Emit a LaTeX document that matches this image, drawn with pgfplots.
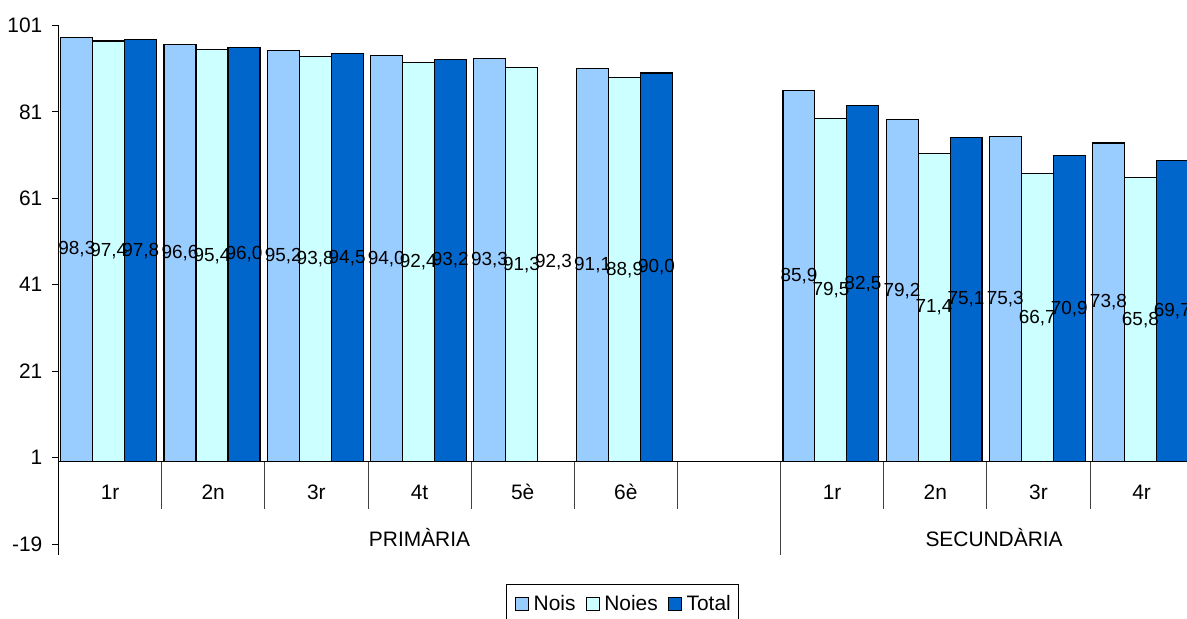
\documentclass[border=0pt]{standalone}
\usepackage{pgfplots}
\pgfplotsset{compat=1.18}
\usepackage{pgfplotstable}
\usepackage{fontspec}
\setmainfont{Liberation Sans}
\definecolor{cNois}{HTML}{99CCFF}
\definecolor{cNoies}{HTML}{CCFFFF}
\definecolor{cTotal}{HTML}{0066CC}

\pgfplotstableread{
x v lab
0 98.3 98,3
1 96.6 96,6
2 95.2 95,2
3 94.0 94,0
4 93.3 93,3
5 91.1 91,1
7 85.9 85,9
8 79.2 79,2
9 75.3 75,3
10 73.8 73,8
}\nois

\pgfplotstableread{
x v lab
0 97.4 97,4
1 95.4 95,4
2 93.8 93,8
3 92.4 92,4
4 91.3 91,3
5 88.9 88,9
7 79.5 79,5
8 71.4 71,4
9 66.7 66,7
10 65.8 65,8
}\noies

\pgfplotstableread{
x v bar lab
0 97.8 97.8 97,8
1 96.0 96.0 96,0
2 94.5 94.5 94,5
3 93.2 93.2 93,2
4 92.3 nan 92,3
5 90.0 90.0 90,0
7 82.5 82.5 82,5
8 75.1 75.1 75,1
9 70.9 70.9 70,9
10 69.7 69.7 69,7
}\total

\newcommand{\ft}{\fontsize{21}{25}\selectfont}
\newcommand{\fl}{\fontsize{19}{23}\selectfont}

\begin{document}
\begin{tikzpicture}
\useasboundingbox (0,0) rectangle (1187bp,619bp);
\begin{axis}[
  at={(58.5bp,75bp)}, anchor=south west,
  scale only axis, width=1134.7bp, height=518.5bp,
  xmin=-0.5, xmax=10.5, ymin=-19, ymax=101,
  axis x line=none, axis y line*=left,
  y axis line style={black, line width=0.9bp},
  ytick={-19,1,21,41,61,81,101},
  yticklabels={-19,1,21,41,61,81,101},
  ytick align=outside, major tick length=6bp,
  ytick style={black, line width=0.9bp},
  yticklabel style={font=\ft, inner sep=0pt, anchor=east, xshift=-10bp},
  clip=false,
  legend columns=3,
  legend style={at={(0.5,0)}, anchor=north, yshift=-40bp, xshift=-3bp,
    draw=black, line width=0.8bp, font=\ft,
    inner xsep=8bp, inner ysep=11bp,
    nodes={inner sep=0pt},
    /tikz/every odd column/.append style={column sep=5bp},
    /tikz/every even column/.append style={column sep=10bp}},
  legend image code/.code={\draw[#1,line width=0.8bp] (0bp,-6.5bp) rectangle (13bp,6.5bp);},
]
\addplot[ybar, bar width=0.31, bar shift=-0.322, fill=cNois, draw=black, line width=1.1bp] table[x=x,y=v]{\nois};
\addlegendentry{Nois}
\addplot[ybar, bar width=0.31, bar shift=-0.012, fill=cNoies, draw=black, line width=1.1bp] table[x=x,y=v]{\noies};
\addlegendentry{Noies}
\addplot[ybar, bar width=0.31, bar shift=0.298, fill=cTotal, draw=black, line width=1.1bp] table[x=x,y=bar]{\total};
\addlegendentry{Total}

\addplot[forget plot, draw=none, mark=none, nodes near coords, point meta=explicit symbolic,
  nodes near coords align={center}, every node near coord/.append style={font=\fl, inner sep=0pt, text=black}]
  table[x expr=\thisrow{x}-0.322, y expr=\thisrow{v}/2, meta=lab]{\nois};
\addplot[forget plot, draw=none, mark=none, nodes near coords, point meta=explicit symbolic,
  nodes near coords align={center}, every node near coord/.append style={font=\fl, inner sep=0pt, text=black}]
  table[x expr=\thisrow{x}-0.012, y expr=\thisrow{v}/2, meta=lab]{\noies};
\addplot[forget plot, draw=none, mark=none, nodes near coords, point meta=explicit symbolic,
  nodes near coords align={center}, every node near coord/.append style={font=\fl, inner sep=0pt, text=black}]
  table[x expr=\thisrow{x}+0.298, y expr=\thisrow{v}/2, meta=lab]{\total};

\draw[black, line width=0.9bp] (axis cs:-0.5,0) -- (axis cs:10.5,0);
\draw[black, line width=0.9bp] (axis cs:-0.5,-19) -- ++(0bp,-11bp);
\pgfplotsinvokeforeach{0.5,1.5,2.5,3.5,4.5,5.5,7.5,8.5,9.5}{
  \draw[black!75, line width=0.8bp] (axis cs:#1,0) -- ++(0bp,-47bp);
}
\draw[black!75, line width=0.8bp] (axis cs:6.5,0) -- ++(0bp,-93bp);

\node[anchor=base, font=\ft, yshift=-38bp] at (axis cs:0,0) {1r};
\node[anchor=base, font=\ft, yshift=-38bp] at (axis cs:1,0) {2n};
\node[anchor=base, font=\ft, yshift=-38bp] at (axis cs:2,0) {3r};
\node[anchor=base, font=\ft, yshift=-38bp] at (axis cs:3,0) {4t};
\node[anchor=base, font=\ft, yshift=-38bp] at (axis cs:4,0) {5è};
\node[anchor=base, font=\ft, yshift=-38bp] at (axis cs:5,0) {6è};
\node[anchor=base, font=\ft, yshift=-38bp] at (axis cs:7,0) {1r};
\node[anchor=base, font=\ft, yshift=-38bp] at (axis cs:8,0) {2n};
\node[anchor=base, font=\ft, yshift=-38bp] at (axis cs:9,0) {3r};
\node[anchor=base, font=\ft, yshift=-38bp] at (axis cs:10,0) {4r};
\node[anchor=base, font=\ft, yshift=-85bp] at (axis cs:3,0) {PRIMÀRIA};
\node[anchor=base, font=\ft, yshift=-85bp] at (axis cs:8.57,0) {SECUNDÀRIA};
\end{axis}
\end{tikzpicture}
\end{document}
